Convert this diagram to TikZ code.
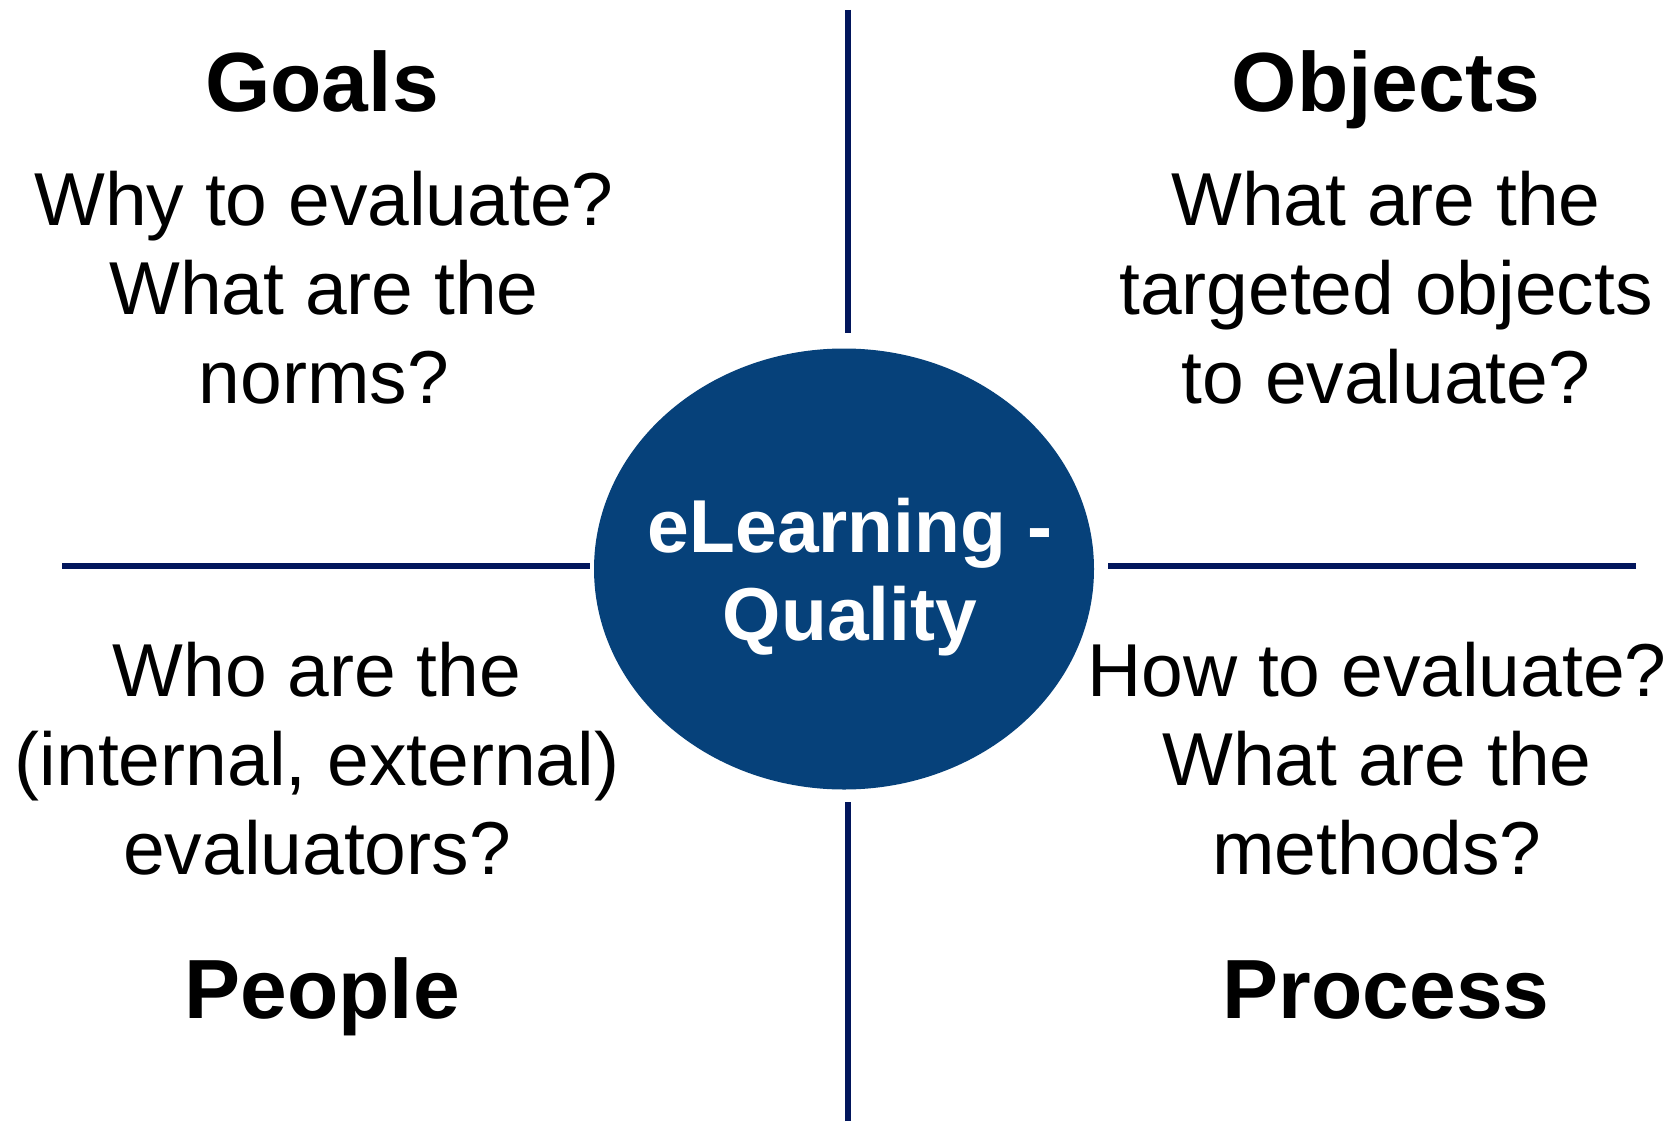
\documentclass[tikz,border=0pt]{standalone}
\usepackage{fontspec}
\setmainfont{Liberation Sans}
\definecolor{QualityFill}{HTML}{06417A}
\definecolor{AxisLine}{HTML}{02165C}
\usetikzlibrary{shapes.geometric}

\tikzset{
    heading/.style={font=\fontsize{84}{100}\selectfont\bfseries, anchor=base, inner sep=0pt},
    question/.style={font=\fontsize{75}{89}\selectfont, align=center, anchor=base, inner sep=0pt},
    axis/.style={draw=AxisLine, line width=5.5pt},
}

\begin{document}
\begin{tikzpicture}[x=1pt, y=-1pt]

\useasboundingbox (0, 0) rectangle (1672, 1121);

\node[ellipse, fill=QualityFill, minimum width=500pt, minimum height=441pt, inner sep=0pt]
    (quality) at (844, 569) {};
\node[font=\fontsize{75}{88}\selectfont\bfseries, text=white, align=center, inner sep=0pt]
    (qualitytext) at (850, 577) {eLearning -\\Quality};

\node[heading] (goals) at (322, 112) {Goals};
\node[heading] (objects) at (1386, 112) {Objects};
\node[heading] (people) at (322, 1018) {People};
\node[heading] (process) at (1386, 1018) {Process};

% the base anchor of these sits on the last line
\node[question] (why) at (324, 403) {Why to evaluate?\\What are the\\norms?};
\node[question] (what) at (1386, 403) {What are the\\targeted objects\\to evaluate?};
\node[question] (who) at (317, 874) {Who are the\\(internal, external)\\evaluators?};
\node[question] (how) at (1377, 874) {How to evaluate?\\What are the\\methods?};

\coordinate (N) at (848, 10);
\coordinate (S) at (848, 1121);
\coordinate (W) at (62, 566);
\coordinate (E) at (1636, 566);
\draw[axis] (N) -- (N |- 0, 333);
\draw[axis] (S) -- (S |- 0, 802);
\draw[axis] (W) -- (590, 566);
\draw[axis] (E) -- (1108, 566);

\end{tikzpicture}
\end{document}
